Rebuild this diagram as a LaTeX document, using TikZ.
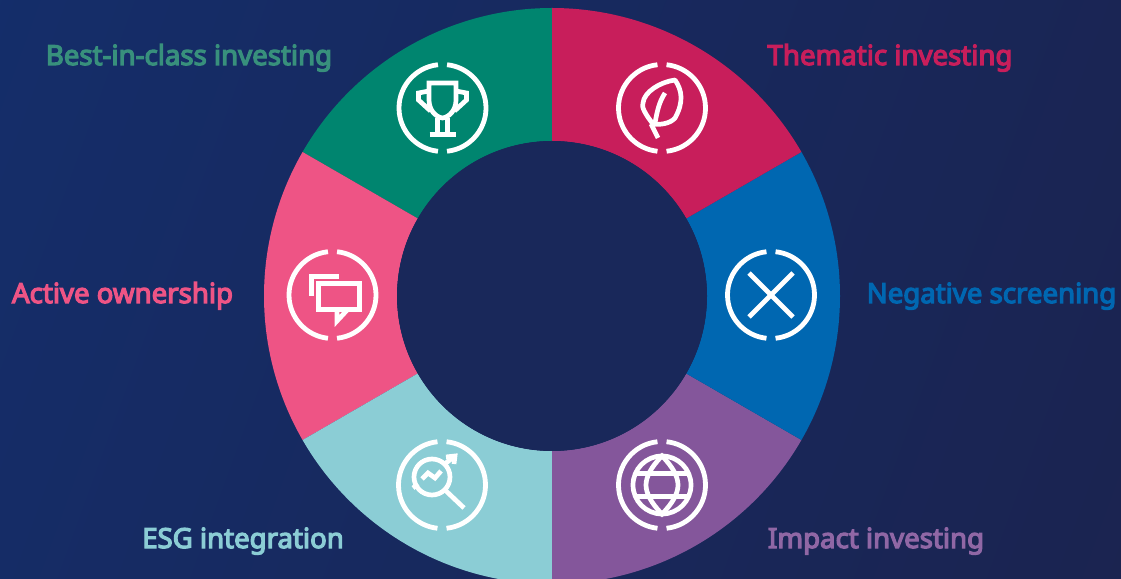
\documentclass[tikz,border=0pt]{standalone}
\usepackage{fontspec}
\setmainfont{Noto Sans}[FakeBold = 4.5]
\definecolor{bgleft}{HTML}{142E6B}
\definecolor{bgright}{HTML}{1B234F}
\definecolor{hub}{HTML}{19285A}
\definecolor{bestgreen}{HTML}{00856F}
\definecolor{besttext}{HTML}{38907C}
\definecolor{themered}{HTML}{C81E5B}
\definecolor{negblue}{HTML}{0067B1}
\definecolor{impactpurple}{HTML}{84569B}
\definecolor{esgteal}{HTML}{8BCDD5}
\definecolor{activepink}{HTML}{EE5485}
\tikzset{
    icon/.style = {draw = white, line width = 4.7pt, line join = miter},
    ring/.style = {draw = white, line width = 4.8pt},
    label/.style = {font = \fontsize{27.6}{28}\selectfont, anchor = base}
}
\begin{document}
\begin{tikzpicture}[x = 1pt, y = 1pt]
        \useasboundingbox (0,0) rectangle (1121,578);
        \clip (0,0) rectangle (1121,578);
        \shade[left color = bgleft, right color = bgright, shading angle = 70] (-200,-200) rectangle (1321,778);

        % Wheel
        \begin{scope}[shift = {(552,282)}]
            \fill[bestgreen] (90:288) arc (90:150:288) -- (150:155) arc (150:90:155) -- cycle;
            \fill[activepink] (150:288) arc (150:210:288) -- (210:155) arc (210:150:155) -- cycle;
            \fill[esgteal] (210:288) arc (210:270:288) -- (270:155) arc (270:210:155) -- cycle;
            \fill[impactpurple] (270:288) arc (270:330:288) -- (330:155) arc (330:270:155) -- cycle;
            \fill[negblue] (330:288) arc (330:390:288) -- (390:155) arc (390:330:155) -- cycle;
            \fill[themered] (30:288) arc (30:90:288) -- (90:155) arc (90:30:155) -- cycle;
            \fill[hub] (0,0) circle (155);
        \end{scope}

        % Rings
        \foreach \px/\py in {442.5/470, 662/470, 332.5/283, 771/283, 442/93, 662/93} {
            \draw[ring] (\px,\py) ++(96:43.5) arc (96:264:43.5);
            \draw[ring] (\px,\py) ++(-84:43.5) arc (-84:84:43.5);
        }

        % Trophy
        \begin{scope}[shift = {(442.5,470)}]
            \draw[icon] (-13.5,25) -- (13.5,25) -- (13.5,8) .. controls (13.5,-2) and (7,-9) .. (0,-10) .. controls (-7,-9) and (-13.5,-2) .. (-13.5,8) -- cycle;
            \draw[icon] (-13.5,17) -- (-24,15) -- (-24,8) -- (-12,-3);
            \draw[icon] (13.5,17) -- (24,15) -- (24,8) -- (12,-3);
            \draw[icon] (-5,-10) -- (-5,-26);
            \draw[icon] (5,-10) -- (5,-26);
            \draw[icon] (-13,-26.7) -- (13,-26.7);
        \end{scope}

        % Leaf
        \begin{scope}[shift = {(662,470)}]
            \draw[icon, line join = round] (13,28) .. controls (20,18) and (22,6) .. (13,-10) .. controls (8,-16) and (-3,-17) .. (-9,-16) .. controls (-17,-6) and (-21,2) .. (-19,5) .. controls (-18,16) and (-2,26) .. cycle;
            \draw[icon] (-11,-16) -- (-4,-30);
            \draw[icon] (-7,-15) .. controls (-5,-4) and (-3,6) .. (3,15);
        \end{scope}

        % Chat
        \begin{scope}[shift = {(332.5,283)}]
            \draw[icon] (-13.7,11.3) rectangle (27.3,-14.7);
            \draw[icon] (15,-14.7) -- (4.5,-26) -- (4.5,-14.7);
            \draw[icon] (6,18.7) -- (-21,18.7) -- (-21,-1);
        \end{scope}

        % Cross
        \begin{scope}[shift = {(771,283)}]
            \draw[icon] (-22,22) -- (22,-22);
            \draw[icon] (-22,-22) -- (22,22);
        \end{scope}

        % Magnifier
        \begin{scope}[shift = {(442,93)}]
            \draw[icon] (-10,8) circle (18);
            \draw[icon] (3,-5) -- (22,-23);
            \draw[icon] (-20,6) -- (-14,12) -- (-7,7) -- (-1,14);
            \draw[icon] (4,22) -- (13,29);
            \draw[icon] (4,28) -- (13,29) -- (12,21);
            \draw[icon] (-29,-3) -- (-24,1);
        \end{scope}

        % Globe
        \begin{scope}[shift = {(662,93)}]
            \draw[icon] (0,0) circle (29);
            \draw[icon] (0,29) .. controls (-11,18) and (-16,8) .. (-16,0) .. controls (-16,-8) and (-11,-18) .. (0,-29) .. controls (11,-18) and (16,-8) .. (16,0) .. controls (16,8) and (11,18) .. (0,29) -- cycle;
            \draw[icon] (-27,11.5) -- (27,11.5);
            \draw[icon] (-27,-11.5) -- (27,-11.5);
        \end{scope}

        % Labels
        \node[label, text = besttext] (best) at (189,513) {Best-in-class investing};
        \node[label, text = themered] (thematic) at (890,513) {Thematic investing};
        \node[label, text = activepink] (active) at (122.5,275) {Active ownership};
        \node[label, text = negblue] (negative) at (991.5,275) {Negative screening};
        \node[label, text = esgteal] (esg) at (243,30) {ESG integration};
        \node[label, text = impactpurple!90!white] (impact) at (876,30) {Impact investing};
    \end{tikzpicture}
\end{document}
